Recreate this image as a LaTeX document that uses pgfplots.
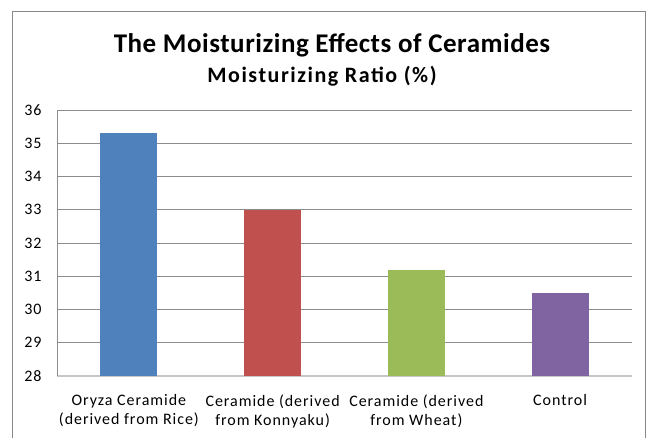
\documentclass[border=0pt]{standalone}
\usepackage{pgfplots}
\pgfplotsset{compat=1.18}
\usepackage{fontspec}
\setmainfont{Carlito}
\newfontfamily\tickfont[LetterSpace=6]{Carlito}
\newfontfamily\titlefont[LetterSpace=2]{Carlito}
\newfontfamily\subfont[LetterSpace=7]{Carlito}
\definecolor{c1}{HTML}{4F81BD}
\definecolor{c2}{HTML}{C0504D}
\definecolor{c3}{HTML}{9BBB59}
\definecolor{c4}{HTML}{8064A2}
\definecolor{gridc}{HTML}{8C8C8C}
\definecolor{borderc}{HTML}{888888}
\begin{document}
\begin{tikzpicture}[x=1pt,y=1pt]
\useasboundingbox (0,0) rectangle (652,437);
\draw[color=borderc, line width=1pt] (12,-5) -- (12,425) -- (645,425) -- (645,-5);
\node[font=\titlefont\bfseries\fontsize{27}{30}\selectfont, anchor=base] at (332,384) {The Moisturizing Effects of Ceramides};
\node[font=\subfont\bfseries\fontsize{22}{26}\selectfont, anchor=base] at (322,354) {Moisturizing Ratio (\%)};
\begin{axis}[
  at={(57pt,61pt)}, anchor=south west,
  scale only axis, width=575pt, height=266pt,
  ymin=28, ymax=36, xmin=-0.5, xmax=3.5,
  ytick={28,29,...,36},
  xtick={0,1,2,3},
  xticklabels={{Oryza Ceramide\\(derived from Rice)},{Ceramide (derived\\from Konnyaku)},{Ceramide (derived\\from Wheat)},{Control}},
  xticklabel style={align=center, font=\tickfont\fontsize{16}{19}\selectfont, yshift=-15pt},
  yticklabel style={font=\tickfont\fontsize{16}{18}\selectfont, xshift=-12pt},
  /pgf/number format/assume math mode=true,
  axis lines*=left,
  axis line style={color=gridc, line width=0.8pt},
  x axis line style={color=gray!45, line width=1.2pt},
  major tick length=0pt,
  ymajorgrids,
  grid style={color=gridc, line width=0.8pt},
  ybar, bar width=57pt, bar shift=0pt,
  clip=false,
]
\addplot[fill=c1, draw=none] coordinates {(0,35.3)};
\addplot[fill=c2, draw=none] coordinates {(1,33.0)};
\addplot[fill=c3, draw=none] coordinates {(2,31.2)};
\addplot[fill=c4, draw=none] coordinates {(3,30.5)};
\end{axis}
\end{tikzpicture}
\end{document}
